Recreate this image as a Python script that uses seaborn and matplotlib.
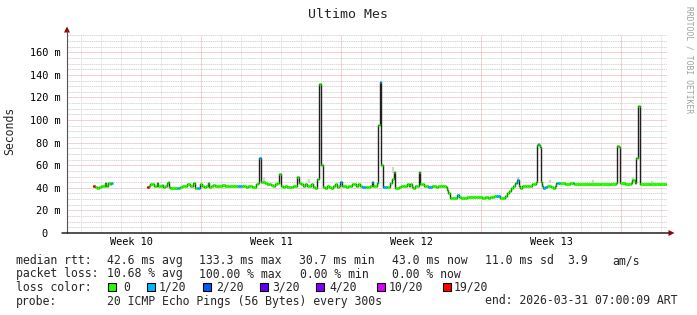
import numpy as np
import pandas as pd
import matplotlib
matplotlib.use("Agg")
import matplotlib.pyplot as plt
import seaborn as sns
from datetime import datetime, timedelta
from matplotlib.patches import Rectangle, Polygon
from matplotlib.lines import Line2D

# ---------------- data ----------------
t_days = [1.30, 1.35, 1.40, 1.50, 1.60, 1.70, 1.80, 1.90, 1.95, 2.00, 2.05, 2.15, 2.20, 2.25, 2.30,
          4.00, 4.05, 4.10, 4.15, 4.25, 4.35, 4.40, 4.50, 4.55, 4.65, 4.75, 4.80, 4.90, 5.00, 5.05,
          5.10, 5.15, 5.25, 5.40, 5.50, 5.55, 5.60, 5.65, 5.75, 5.90, 6.00, 6.15, 6.30, 6.35, 6.40,
          6.50, 6.55, 6.65, 6.75, 6.85, 6.95, 7.05, 7.10, 7.20, 7.30, 7.40, 7.50, 7.60, 7.75, 7.90,
          8.05, 8.15, 8.30, 8.45, 8.55, 8.65, 8.75, 8.85, 8.95, 9.05, 9.15, 9.25, 9.35, 9.45, 9.55,
          9.60, 9.65, 9.70, 9.80, 9.90, 10.00, 10.10, 10.20, 10.30, 10.40, 10.50, 10.60, 10.65, 10.70, 10.80,
          10.90, 11.00, 11.10, 11.20, 11.30, 11.40, 11.50, 11.55, 11.60, 11.70, 11.80, 11.90, 12.00, 12.10, 12.20,
          12.30, 12.40, 12.50, 12.55, 12.60, 12.65, 12.70, 12.75, 12.80, 12.90, 13.00, 13.10, 13.20, 13.30, 13.40,
          13.50, 13.60, 13.65, 13.70, 13.75, 13.85, 13.95, 14.05, 14.15, 14.25, 14.35, 14.45, 14.55, 14.65, 14.75,
          14.85, 14.95, 15.05, 15.15, 15.25, 15.30, 15.40, 15.50, 15.55, 15.60, 15.65, 15.70, 15.75, 15.80, 15.90,
          16.00, 16.10, 16.15, 16.25, 16.35, 16.40, 16.50, 16.60, 16.70, 16.80, 16.90, 17.00, 17.10, 17.15, 17.25,
          17.30, 17.40, 17.50, 17.60, 17.65, 17.75, 17.85, 17.95, 18.05, 18.15, 18.25, 18.35, 18.45, 18.55, 18.65,
          18.75, 18.85, 18.95, 19.00, 19.05, 19.15, 19.25, 19.40, 19.50, 19.60, 19.70, 19.85, 20.00, 20.15, 20.30,
          20.45, 20.60, 20.75, 20.90, 21.05, 21.15, 21.25, 21.35, 21.45, 21.55, 21.65, 21.80, 21.90, 22.00, 22.10,
          22.20, 22.30, 22.40, 22.45, 22.50, 22.55, 22.60, 22.65, 22.75, 22.85, 22.95, 23.05, 23.15, 23.25, 23.35,
          23.45, 23.50, 23.55, 23.60, 23.65, 23.70, 23.75, 23.80, 23.90, 24.00, 24.10, 24.20, 24.30, 24.40, 24.45,
          24.50, 24.55, 24.65, 24.90, 25.15, 25.30, 25.35, 25.65, 26.15, 26.65, 27.15, 27.45, 27.50, 27.55, 27.60,
          27.65, 27.90, 28.20, 28.25, 28.30, 28.40, 28.45, 28.50, 28.55, 28.60, 28.65, 29.15, 29.65, 29.95]

median_ms = [42, 42, 40.5, 40, 41, 41.5, 42, 44, 42, 42, 44, 43, 44, 44, np.nan,
             40.5, 40.5, 42, 43, 43, 42, 41.5, 44, 42, 42, 42.5, 41, 42, 44, 45,
             41, 40, 40, 40, 40, 40, 40, 41, 41.5, 42, 43, 42, 44, 44, 40,
             40, 40, 43, 42, 41, 42, 44, 41, 42, 42.5, 42, 41.5, 42, 42.5, 42,
             42, 42, 42, 42, 42, 42, 42, 42, 41, 42, 41.5, 40.5, 41, 43, 44,
             66, 66, 45, 45, 44, 43, 43, 42.5, 42, 43, 44, 52, 52, 42, 41,
             42, 41, 41, 41, 42, 42, 50, 50, 44, 43, 42, 43, 42, 42, 43,
             41, 40, 48, 48, 131.7, 131.7, 60, 60, 41, 40, 42, 41, 40, 42, 43,
             41, 42, 45, 45, 42, 42, 41, 42, 42, 43, 43, 42, 43, 42, 41,
             41, 41, 41, 42, 45, 42, 42, 44, 96, 96, 133.5, 60, 60, 41, 41,
             41, 41, 44, 48, 54, 40, 40, 41, 42, 42, 42, 43, 42, 43, 41,
             40, 42, 42, 54, 43, 43, 42, 42, 41, 41, 42, 42, 41, 42, 42,
             42, 42, 41, 38, 35, 31, 31, 31, 34, 32, 31, 31, 31.5, 31.5, 31.5,
             31.5, 31.5, 31, 31.5, 31, 32, 32, 33, 33, 33, 31, 31, 33, 35, 37,
             40, 42, 44, 44, 47, 47, 42, 40, 42, 42, 42, 42, 42, 43, 43,
             45, 78, 78.6, 78, 76, 45, 42, 40, 41, 42, 42, 41, 40, 42, 44,
             44, 44, 44, 43.5, 44, 44, 43.5, 43.5, 43.5, 43.5, 43.5, 44, 77, 77, 76,
             44, 43.5, 44, 47, 47, 44, 66, 66, 112, 112, 43.5, 43.5, 43.5, 43.5]

loss_n = [19, 19, 0, 0, 0, 0, 0, 0, 0, 0, 0, 0, 1, 1, 0,
          19, 19, 0, 0, 0, 0, 0, 0, 0, 0, 0, 0, 0, 0, 0,
          0, 0, 0, 0, 1, 1, 0, 0, 0, 0, 0, 0, 0, 0, 0,
          1, 1, 0, 0, 0, 0, 0, 0, 0, 0, 0, 0, 0, 0, 0,
          0, 0, 0, 0, 1, 1, 0, 0, 0, 0, 0, 0, 0, 0, 0,
          1, 1, 0, 0, 0, 0, 0, 0, 0, 0, 0, 0, 0, 0, 0,
          0, 0, 0, 0, 0, 0, 0, 0, 0, 0, 0, 0, 0, 0, 0,
          0, 0, 0, 0, 0, 0, 0, 0, 0, 0, 0, 0, 0, 0, 0,
          0, 0, 1, 1, 0, 0, 0, 0, 0, 0, 0, 0, 0, 0, 1,
          1, 0, 0, 0, 1, 0, 0, 0, 0, 0, 1, 0, 0, 1, 1,
          0, 0, 0, 0, 0, 0, 0, 0, 0, 0, 0, 0, 0, 0, 0,
          0, 0, 0, 0, 0, 0, 0, 0, 1, 1, 0, 0, 0, 0, 0,
          0, 0, 0, 0, 0, 0, 0, 0, 1, 0, 0, 0, 0, 0, 0,
          0, 0, 0, 0, 0, 0, 0, 0, 1, 1, 0, 0, 0, 0, 0,
          0, 0, 0, 1, 1, 1, 0, 0, 0, 0, 0, 0, 0, 0, 0,
          0, 0, 1, 0, 0, 0, 0, 1, 1, 0, 0, 0, 0, 0, 0,
          1, 1, 0, 0, 0, 1, 0, 0, 0, 0, 0, 0, 0, 0, 0,
          0, 0, 0, 0, 0, 0, 0, 0, 0, 0, 0, 0, 0, 0]

smoke_t = [9.85, 12.10, 16.30, 22.55, 24.15, 26.30, 28.30, 29.25]
smoke_lo = [45, 44, 53, 47, 44, 44, 47, 44]
smoke_hi = [50, 48, 58, 50, 47, 47, 50, 46]

loss_levels = [0, 1, 2, 3, 4, 10, 19]
loss_labels = ["0", "1/20", "2/20", "3/20", "4/20", "10/20", "19/20"]
loss_colors = ["#26ff00", "#00b8ff", "#0059ff", "#5e00ff", "#7e00ff", "#dd00ff", "#ff0000"]

y_ticks = [0, 20, 40, 60, 80, 100, 120, 140, 160]
y_tick_labels = ["0", "20 m", "40 m", "60 m", "80 m", "100 m", "120 m", "140 m", "160 m"]
week_labels = ["Week 10", "Week 11", "Week 12", "Week 13"]

title = "Ultimo Mes"
y_label = "Seconds"
watermark = "RRDTOOL / TOBI OETIKER"
row_rtt = ["median rtt:", "42.6 ms avg", "133.3 ms max", "30.7 ms min", "43.0 ms now",
           "11.0 ms sd", "3.9", "am/s"]
row_loss = ["packet loss:", "10.68 % avg", "100.00 % max", "0.00 % min", "0.00 % now"]
row_color = "loss color:"
row_probe = ["probe:", "20 ICMP Echo Pings (56 Bytes) every 300s", "end: 2026-03-31 07:00:09 ART"]

start_time = datetime(2026, 3, 1, 7, 0, 9)
span_days = 30

# ---------------- style ----------------
sns.set_theme(style="white")
plt.rcParams["font.family"] = ["DejaVu Sans Mono"]

W, H = 697, 315
fig = plt.figure(figsize=(W / 100, H / 100), dpi=100)
fig.patch.set_facecolor("white")


def fx(px):
    return px / W


def fy(py):
    return 1 - py / H


ax = fig.add_axes([fx(67), fy(233), 600 / W, 198 / H])
ax.set_facecolor("white")
ax.set_xlim(0, span_days)
ax.set_ylim(0, 175.3)
for s in ax.spines.values():
    s.set_visible(False)

# grid
minor_col = "#d9d9d9"
major_col = "#e6a8a8"
first_midnight = (datetime(2026, 3, 2) - start_time).total_seconds() / 86400
days = [first_midnight + k for k in range(span_days)]
sundays = [d for d in days if (start_time + timedelta(days=d)).weekday() == 6]
for d in days:
    if d in sundays:
        continue
    ax.axvline(d, color=minor_col, lw=0.72, ls=(0, (1, 1)), zorder=0)
for v in range(5, 176, 5):
    if v % 20 == 0:
        continue
    ax.axhline(v, color=minor_col, lw=0.72, ls=(0, (1.5, 0.7)), zorder=0)
for d in sundays:
    ax.axvline(d, color=major_col, lw=0.72, ls=(0, (1, 1)), zorder=0.5)
for v in y_ticks[1:]:
    ax.axhline(v, color=major_col, lw=0.72, ls=(0, (1, 1)), zorder=0.5)

# smoke
ax.vlines(smoke_t, smoke_lo, smoke_hi, color="#d4d4d4", lw=1.6, zorder=1)

# median line (dark)
df = pd.DataFrame({"t": t_days, "ms": median_ms, "loss": loss_n})
df["seg"] = df["ms"].isna().cumsum()
df_ok = df.dropna(subset=["ms"])
sns.lineplot(data=df_ok, x="t", y="ms", units="seg", estimator=None, sort=False,
             drawstyle="steps-post", color="#202020", lw=1.0, ax=ax, zorder=2, legend=False)


def loss_color(n):
    c = loss_colors[0]
    for lvl, col in zip(loss_levels, loss_colors):
        if n >= lvl:
            c = col
    return c


t_arr = np.array(t_days)
v_arr = np.array(median_ms, dtype=float)
t_next = np.append(t_arr[1:], span_days)
ok = ~np.isnan(v_arr)
cols = [loss_color(n) for n in np.array(loss_n)[ok]]
ax.hlines(v_arr[ok], t_arr[ok], t_next[ok], colors=cols, lw=2.2, zorder=3)

# ticks
ax.set_yticks(y_ticks)
ax.set_yticklabels(y_tick_labels)
week_mid = [d + 3.5 for d in [first_midnight - 1] + sundays][:len(week_labels)]
ax.set_xticks(week_mid)
ax.set_xticklabels(week_labels)
ax.tick_params(axis="y", length=0, pad=4.6, labelsize=7.4, colors="black")
ax.tick_params(axis="x", length=0, pad=3.0, labelsize=7.4, colors="black")
ax.yaxis.get_major_ticks()[0].set_pad(4.6 + 9.4)
ax.set_xlabel("")
ax.set_ylabel("")

# axes lines and arrows
fig.add_artist(Line2D([fx(67), fx(67)], [fy(233), fy(31)], color="#555555", lw=0.8))
fig.add_artist(Line2D([fx(62), fx(669)], [fy(233), fy(233)], color="#222222", lw=1.1))
arrow_col = "#9b0000"
fig.add_artist(Polygon([[fx(67), fy(26.5)], [fx(64), fy(32.5)], [fx(70), fy(32.5)]],
                       closed=True, color=arrow_col, lw=0))
fig.add_artist(Polygon([[fx(674.5), fy(233)], [fx(668.5), fy(230)], [fx(668.5), fy(236)]],
                       closed=True, color=arrow_col, lw=0))

# title, labels, watermark
fig.text(fx(348), fy(14), title, ha="center", va="center", fontsize=9.5)
fig.text(fx(10), fy(131), y_label, ha="center", va="center", rotation=90, fontsize=8.3)
fig.text(fx(689), fy(60), watermark, ha="center", va="center", rotation=270,
         fontsize=5.8, color="#a0a0a0")

# legend
fs = 8.3
base = [264, 277.5, 291, 304.5]
for x, s in zip([17, 108, 200, 300, 393, 486, 568, 613], row_rtt):
    fig.text(fx(x - 1), fy(base[0]), s, ha="left", va="baseline", fontsize=fs)
for x, s in zip([17, 108, 200, 301, 393], row_loss):
    fig.text(fx(x - 1), fy(base[1]), s, ha="left", va="baseline", fontsize=fs)
fig.text(fx(16), fy(base[2]), row_color, ha="left", va="baseline", fontsize=fs)
sq_x = [108, 147, 203, 260, 316, 377, 443]
lb_x = [124, 160, 217, 273, 330, 390, 455]
for sx, lx, lab, col in zip(sq_x, lb_x, loss_labels, loss_colors):
    fig.add_artist(Rectangle((fx(sx), fy(291)), 8 / W, 8 / H, facecolor=col,
                             edgecolor="black", lw=0.8))
    fig.text(fx(lx - 1), fy(base[2]), lab, ha="left", va="baseline", fontsize=fs)
for x, s in zip([17, 108, 486], row_probe):
    fig.text(fx(x - 1), fy(base[3]), s, ha="left", va="baseline", fontsize=fs)

fig.savefig("out.png", dpi=100, facecolor="white")
